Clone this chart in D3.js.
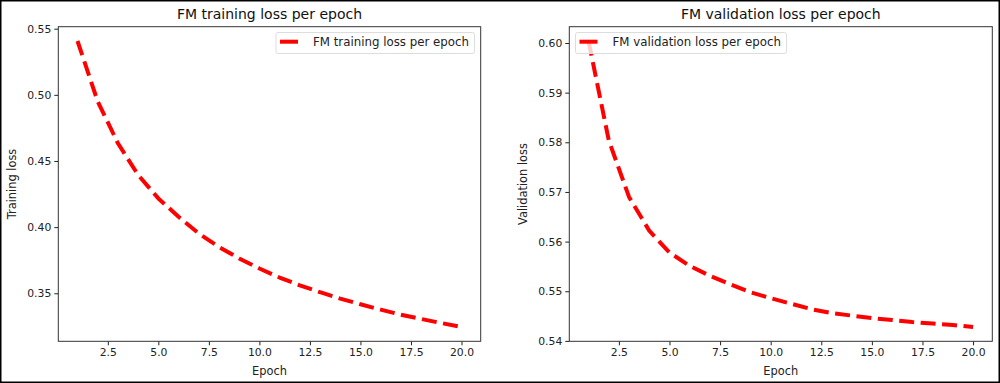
<!DOCTYPE html>
<html>
<head>
<meta charset="utf-8">
<script src="https://cdn.jsdelivr.net/npm/d3@7"></script>
<style>
  html, body { margin: 0; padding: 0; background: #fff; }
  svg { display: block; font-family: "DejaVu Sans", sans-serif; }
</style>
</head>
<body>
<svg id="chart" width="1000" height="383"></svg>
<script>
// ---- data ----
const epochs = [1,2,3,4,5,6,7,8,9,10,11,12,13,14,15,16,17,18,19,20];
const trainLoss = [0.5407,0.4950,0.4634,0.4394,0.4217,0.4078,0.3952,0.3850,0.3763,0.3687,
                   0.3619,0.3560,0.3508,0.3460,0.3417,0.3376,0.3338,0.3306,0.3275,0.3245];
const valLoss = [0.6004,0.5804,0.5690,0.5622,0.5578,0.5551,0.5531,0.5514,0.5498,0.5486,
                 0.5475,0.5464,0.5456,0.5451,0.5446,0.5442,0.5438,0.5435,0.5432,0.5428];
const xTicks = [2.5,5.0,7.5,10.0,12.5,15.0,17.5,20.0];
const trainTicks = [0.35,0.40,0.45,0.50,0.55];
const valTicks = [0.54,0.55,0.56,0.57,0.58,0.59,0.60];

const svg = d3.select("#chart");

// outer border
svg.append("rect").attr("x",0.75).attr("y",0.75).attr("width",998.5).attr("height",381.5)
  .attr("fill","none").attr("stroke","#000").attr("stroke-width",1.5);

function panel(opts) {
  const {left, right, top, bottom, values, yTicks, title, ylabel, legend, legendX, legendW, ylabelX} = opts;
  const g = svg.append("g");
  const xMin = d3.min(epochs), xMax = d3.max(epochs), xr = xMax - xMin;
  const x = d3.scaleLinear().domain([xMin - 0.05*xr, xMax + 0.05*xr]).range([left, right]);
  const yMin = d3.min(values), yMax = d3.max(values), yr = yMax - yMin;
  const y = d3.scaleLinear().domain([yMin - 0.05*yr, yMax + 0.05*yr]).range([bottom, top]);

  // line
  const line = d3.line().x((d,i)=>x(epochs[i])).y(d=>y(d));
  g.append("path").datum(values).attr("d", line)
    .attr("fill","none").attr("stroke","#f00").attr("stroke-width",4)
    .attr("stroke-dasharray","15,6.5").attr("stroke-linecap","butt").attr("stroke-linejoin","round");

  // axes
  const xAxis = d3.axisBottom(x).tickValues(xTicks).tickFormat(d3.format(".1f")).tickSize(4).tickPadding(3);
  const gx = g.append("g").attr("transform",`translate(0,${bottom})`).call(xAxis);
  const yAxis = d3.axisLeft(y).tickValues(yTicks).tickFormat(d3.format(".2f")).tickSize(4).tickPadding(3);
  const gy = g.append("g").attr("transform",`translate(${left},0)`).call(yAxis);
  [gx, gy].forEach(a => {
    a.select(".domain").remove();
    a.selectAll(".tick line").attr("stroke","#222");
    a.selectAll(".tick text").attr("fill","#222").style("font-size","10.8px").style("font-family","DejaVu Sans, sans-serif");
  });

  // frame
  g.append("rect").attr("x",left).attr("y",top).attr("width",right-left).attr("height",bottom-top)
    .attr("fill","none").attr("stroke","#333").attr("stroke-width",1);

  // title
  g.append("text").attr("x",(left+right)/2).attr("y",19).attr("text-anchor","middle")
    .attr("fill","#111").style("font-size","14px").text(title);
  // x label
  g.append("text").attr("x",(left+right)/2).attr("y",375).attr("text-anchor","middle")
    .attr("fill","#222").style("font-size","11.4px").text("Epoch");
  // y label
  g.append("text").attr("transform",`translate(${ylabelX},${(top+bottom)/2}) rotate(-90)`)
    .attr("text-anchor","middle").attr("fill","#222").style("font-size","11.4px").text(ylabel);

  // legend
  const lg = g.append("g");
  lg.append("rect").attr("x",legendX).attr("y",32.5).attr("width",legendW).attr("height",21)
    .attr("rx",2).attr("fill","#fff").attr("fill-opacity",0.8).attr("stroke","#ddd").attr("stroke-width",1);
  lg.append("line").attr("x1",legendX+4).attr("x2",legendX+22).attr("y1",41.7).attr("y2",41.7)
    .attr("stroke","#f00").attr("stroke-width",4);
  lg.append("text").attr("x",legendX+37).attr("y",46).attr("fill","#222")
    .style("font-size","11.8px").text(legend);
}

panel({left:58.3, right:480.7, top:26.7, bottom:341.3, values:trainLoss, yTicks:trainTicks,
       title:"FM training loss per epoch", ylabel:"Training loss", legend:"FM training loss per epoch",
       legendX:276, legendW:198.5, ylabelX:16});
panel({left:569.3, right:992.3, top:26.7, bottom:341.3, values:valLoss, yTicks:valTicks,
       title:"FM validation loss per epoch", ylabel:"Validation loss", legend:"FM validation loss per epoch",
       legendX:575.5, legendW:211, ylabelX:527});
</script>
</body>
</html>
